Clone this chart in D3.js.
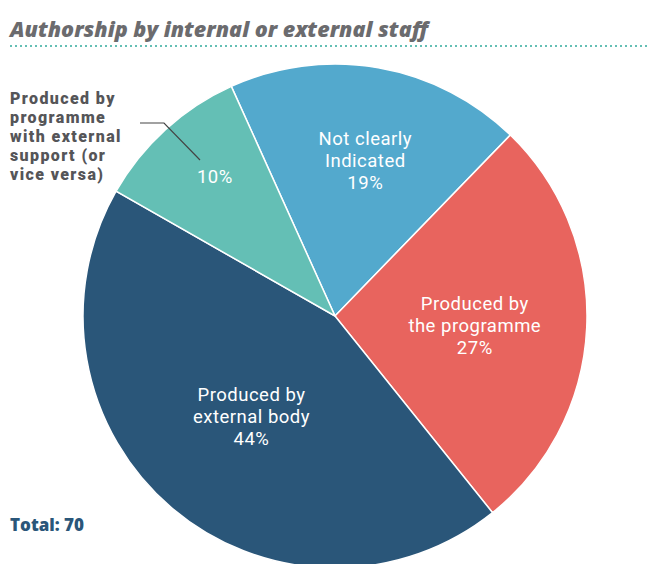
<!DOCTYPE html>
<html><head><meta charset="utf-8">
<script src="https://cdn.jsdelivr.net/npm/d3@7"></script>
<style>body{margin:0;background:#fff;} svg{display:block;}</style>
</head><body>
<svg id="chart" width="650" height="564"></svg>
<script>
const categories = ["Not clearly Indicated", "Produced by the programme", "Produced by external body", "Produced by programme with external support (or vice versa)"];
const values = [19, 27, 44, 10];
const labelLines = [["Not clearly", "Indicated"], ["Produced by", "the programme"], ["Produced by", "external body"], []];
const outsideLines = ["Produced by", "programme", "with external", "support (or", "vice versa)"];
const colors = ["#53a9cd", "#e8645e", "#2a5679", "#64bfb5"];
const title = "Authorship by internal or external staff";
const total = "Total: 70";

const svg = d3.select("#chart");
const cx = 335, cy = 316, r = 252;
const start = -24.3 * Math.PI / 180;

svg.append("text").attr("x", 10).attr("y", 37)
  .attr("font-family", "Open Sans").attr("font-weight", 800).attr("font-style", "italic")
  .attr("font-size", 21.5).attr("fill", "#6b6b6e").text(title);
svg.append("line").attr("x1", 10).attr("x2", 650).attr("y1", 46).attr("y2", 46)
  .attr("stroke", "#64bfb5").attr("stroke-width", 2).attr("stroke-dasharray", "2,3");

const pie = d3.pie().sort(null).value(d => d).startAngle(start).endAngle(start + 2 * Math.PI);
const arcs = pie(values);
const arc = d3.arc().innerRadius(0).outerRadius(r);
const g = svg.append("g").attr("transform", `translate(${cx},${cy})`);
g.selectAll("path").data(arcs).join("path")
  .attr("d", arc).attr("fill", (d, i) => colors[i])
  .attr("stroke", "#fff").attr("stroke-width", 1.5);

// label radius fraction and angular offset (deg)
const labelPos = [[0.63, 1.1], [0.556, 1.2], [0.52, -0.9], [0.73, 1.5]];
arcs.forEach((a, i) => {
  const lines = labelLines[i].concat([values[i] + "%"]);
  const mid = (a.startAngle + a.endAngle) / 2 + labelPos[i][1] * Math.PI / 180;
  const rr = r * labelPos[i][0];
  const x = Math.sin(mid) * rr, y = -Math.cos(mid) * rr;
  const lh = 22;
  const y0 = y - (lines.length - 1) * lh / 2;
  lines.forEach((l, k) => {
    g.append("text").attr("text-anchor", "middle").attr("fill", "#fff")
      .attr("font-family", "Roboto").attr("font-size", 18.5).attr("letter-spacing", 0.5)
      .attr("x", x).attr("y", y0 + k * lh).attr("dy", "0.35em").text(l);
  });
});

outsideLines.forEach((l, k) => {
  svg.append("text").attr("font-family", "Roboto").attr("font-weight", 900)
    .attr("font-size", 16).attr("letter-spacing", 1.4).attr("fill", "#555558")
    .attr("x", 10).attr("y", 98 + k * 19).attr("dy", "0.35em").text(l);
});
svg.append("path").attr("d", "M140,123 L164,123 L200,160").attr("fill", "none")
  .attr("stroke", "#444").attr("stroke-width", 1.2);

svg.append("text").attr("x", 10).attr("y", 531).attr("font-family", "Open Sans")
  .attr("font-weight", 800).attr("font-size", 17).attr("fill", "#2a5679").text(total);
</script>
</body></html>
